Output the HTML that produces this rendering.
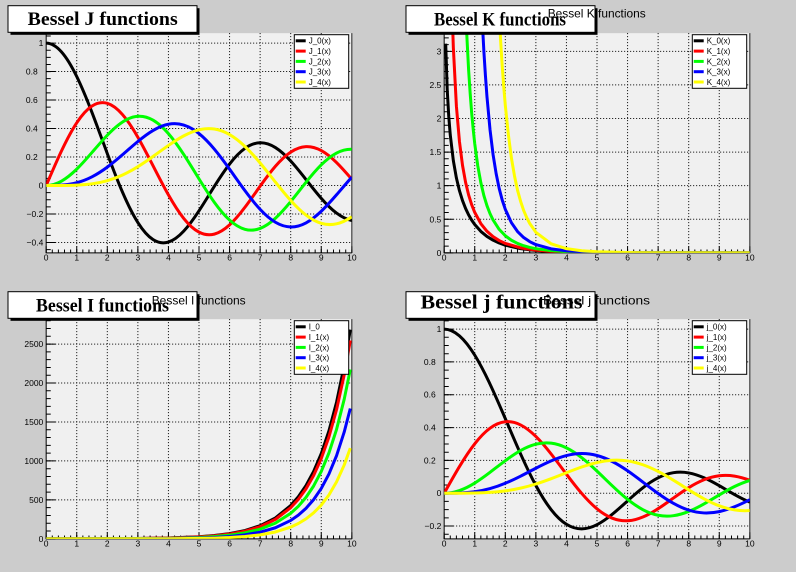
<!DOCTYPE html>
<html><head><meta charset="utf-8">
<style>
html,body{margin:0;padding:0;background:#cccccc;}
svg{display:block;}
text{font-family:"Liberation Sans",Arial,sans-serif;fill:#000;}
.t{font-family:"Liberation Serif","Times New Roman",serif;font-weight:bold;}
.yl{font-size:8.5px;text-anchor:end;}
.xl{font-size:8.5px;text-anchor:middle;}
.lg{font-size:8px;}
.st{font-size:12px;}
.grid{stroke:#000;stroke-width:1;stroke-dasharray:1 2;fill:none;}
.tk line{stroke:#000;}
.ax{stroke:#000;stroke-width:1;fill:none;}
.cv path{fill:none;stroke-width:3;stroke-linejoin:round;vector-effect:non-scaling-stroke;}
</style></head><body>
<svg width="796" height="572" viewBox="0 0 796 572" xmlns="http://www.w3.org/2000/svg">
<rect width="796" height="572" fill="#cccccc"/>
<defs>
<clipPath id="c1"><rect x="46.17" y="33.18" width="305.66" height="219.64"/></clipPath>
<clipPath id="c2"><rect x="444.17" y="33.18" width="305.66" height="219.64"/></clipPath>
<clipPath id="c3"><rect x="46.17" y="319.18" width="305.66" height="219.64"/></clipPath>
<clipPath id="c4"><rect x="444.17" y="319.18" width="305.66" height="219.64"/></clipPath>
</defs>
<rect x="46.17" y="33.18" width="305.66" height="219.64" fill="#f0f0f0"/>
<rect x="444.17" y="33.18" width="305.66" height="219.64" fill="#f0f0f0"/>
<rect x="46.17" y="319.18" width="305.66" height="219.64" fill="#f0f0f0"/>
<rect x="444.17" y="319.18" width="305.66" height="219.64" fill="#f0f0f0"/>

<!-- GRID -->
<path class="grid" d="M46.17 43.07H351.83M46.17 71.56H351.83M46.17 100.04H351.83M46.17 128.52H351.83M46.17 157.01H351.83M46.17 185.49H351.83M46.17 213.97H351.83M46.17 242.45H351.83
M76.74 33.18V252.82M107.30 33.18V252.82M137.87 33.18V252.82M168.43 33.18V252.82M199.00 33.18V252.82M229.57 33.18V252.82M260.13 33.18V252.82M290.70 33.18V252.82M321.26 33.18V252.82"/>
<path class="grid" d="M444.17 51.32H749.83M444.17 84.91H749.83M444.17 118.49H749.83M444.17 152.08H749.83M444.17 185.66H749.83M444.17 219.25H749.83
M474.74 33.18V252.82M505.30 33.18V252.82M535.87 33.18V252.82M566.43 33.18V252.82M597.00 33.18V252.82M627.57 33.18V252.82M658.13 33.18V252.82M688.70 33.18V252.82M719.26 33.18V252.82"/>
<path class="grid" d="M46.17 344.07H351.83M46.17 383.02H351.83M46.17 421.97H351.83M46.17 460.92H351.83M46.17 499.87H351.83
M76.74 319.18V538.82M107.30 319.18V538.82M137.87 319.18V538.82M168.43 319.18V538.82M199.00 319.18V538.82M229.57 319.18V538.82M260.13 319.18V538.82M290.70 319.18V538.82M321.26 319.18V538.82"/>
<path class="grid" d="M444.17 329.10H749.83M444.17 361.92H749.83M444.17 394.74H749.83M444.17 427.57H749.83M444.17 460.39H749.83M444.17 493.22H749.83M444.17 526.04H749.83
M474.74 319.18V538.82M505.30 319.18V538.82M535.87 319.18V538.82M566.43 319.18V538.82M597.00 319.18V538.82M627.57 319.18V538.82M658.13 319.18V538.82M688.70 319.18V538.82M719.26 319.18V538.82"/>

<!-- TICKS -->
<g class="tk">
<line x1="48.46" y1="35.46" x2="48.46" y2="250.1" stroke-width="4.58" stroke-dasharray="1 6.1207"/>
<line x1="50.755" y1="42.57" x2="50.755" y2="243" stroke-width="9.17" stroke-dasharray="1 27.4828"/>
<line x1="45.67" y1="251.175" x2="352.4" y2="251.175" stroke-width="3.29" stroke-dasharray="1 5.1132"/>
<line x1="45.67" y1="249.525" x2="352.4" y2="249.525" stroke-width="6.59" stroke-dasharray="1 29.566"/>

<line x1="446.46" y1="37.38" x2="446.46" y2="253.4" stroke-width="4.58" stroke-dasharray="1 5.717"/>
<line x1="448.755" y1="50.82" x2="448.755" y2="253.4" stroke-width="9.17" stroke-dasharray="1 32.585"/>
<line x1="443.67" y1="251.175" x2="750.4" y2="251.175" stroke-width="3.29" stroke-dasharray="1 5.1132"/>
<line x1="443.67" y1="249.525" x2="750.4" y2="249.525" stroke-width="6.59" stroke-dasharray="1 29.566"/>

<line x1="48.46" y1="320.2" x2="48.46" y2="539.4" stroke-width="4.58" stroke-dasharray="1 6.78984"/>
<line x1="50.755" y1="343.57" x2="50.755" y2="539.4" stroke-width="9.17" stroke-dasharray="1 37.9492"/>
<line x1="45.67" y1="537.175" x2="352.4" y2="537.175" stroke-width="3.29" stroke-dasharray="1 5.1132"/>
<line x1="45.67" y1="535.525" x2="352.4" y2="535.525" stroke-width="6.59" stroke-dasharray="1 29.566"/>

<line x1="446.46" y1="320.39" x2="446.46" y2="534.8" stroke-width="4.58" stroke-dasharray="1 7.2061"/>
<line x1="448.755" y1="328.6" x2="448.755" y2="527" stroke-width="9.17" stroke-dasharray="1 31.8244"/>
<line x1="443.67" y1="537.175" x2="750.4" y2="537.175" stroke-width="3.29" stroke-dasharray="1 5.1132"/>
<line x1="443.67" y1="535.525" x2="750.4" y2="535.525" stroke-width="6.59" stroke-dasharray="1 29.566"/>
</g>

<!-- AXES -->
<path class="ax" d="M46.17 33.18V252.82H351.83M444.17 33.18V252.82H749.83M46.17 319.18V538.82H351.83M444.17 319.18V538.82H749.83"/>
<path d="M351.83 33.18V252.82M749.83 33.18V252.82M351.83 319.18V538.82M749.83 319.18V538.82" stroke="#222" stroke-width="1" fill="none"/>

<!-- CURVES pad 1: J -->
<g clip-path="url(#c1)"><g class="cv" transform="matrix(30.566 0 0 -142.414 46.17 185.49)">
<path stroke="#000000" d="M0 1C0.1667 1 0.3333 0.978848 0.5 0.93847C0.6667 0.898092 0.8333 0.838542 1 0.7652C1.1667 0.691858 1.3333 0.60482 1.5 0.51183C1.6667 0.41884 1.8333 0.32001 2 0.22389C2.1667 0.12777 2.3333 0.034468 2.5 -0.04838C2.6667 -0.131228 2.8333 -0.20354 3 -0.26005C3.1667 -0.31656 3.3333 -0.357233 3.5 -0.38013C3.6667 -0.403027 3.8333 -0.408157 4 -0.39715C4.1667 -0.386143 4.3333 -0.35905 4.5 -0.32054C4.6667 -0.28203 4.8333 -0.232197 5 -0.1776C5.1667 -0.123003 5.3333 -0.063747 5.5 -0.00684C5.6667 0.050067 5.8333 0.104537 6 0.15065C6.1667 0.196763 6.3333 0.23445 6.5 0.26009C6.6667 0.28573 6.8333 0.2993 7 0.30008C7.1667 0.30086 7.3333 0.288882 7.5 0.26634C7.6667 0.243798 7.8333 0.210757 8 0.17165C8.1667 0.132543 8.3333 0.08745 8.5 0.04193C8.6667 -0.00359 8.8333 -0.049445 9 -0.09033C9.1667 -0.131215 9.3333 -0.167052 9.5 -0.19393C9.6667 -0.220808 9.8333 -0.238695 10 -0.24594"/>
<path stroke="#ff0000" d="M0 0C0.1667 0.083333 0.3333 0.166614 0.5 0.24227C0.6667 0.317926 0.8333 0.385858 1 0.44005C1.1667 0.494242 1.3333 0.534628 1.5 0.55794C1.6667 0.581252 1.8333 0.587465 2 0.57672C2.1667 0.565975 2.3333 0.538293 2.5 0.49709C2.6667 0.455887 2.8333 0.401238 3 0.33906C3.1667 0.276882 3.3333 0.207277 3.5 0.13738C3.6667 0.067483 3.8333 -0.0026 4 -0.06604C4.1667 -0.12948 4.3333 -0.186194 4.5 -0.23106C4.6667 -0.275926 4.8333 -0.308899 5 -0.32758C5.1667 -0.346261 5.3333 -0.350656 5.5 -0.34144C5.6667 -0.332224 5.8333 -0.309473 6 -0.27668C6.1667 -0.243887 6.3333 -0.201133 6.5 -0.15384C6.6667 -0.106547 6.8333 -0.054805 7 -0.00468C7.1667 0.045445 7.3333 0.093866 7.5 0.13525C7.6667 0.176634 7.8333 0.21092 8 0.23464C8.1667 0.25836 8.3333 0.271483 8.5 0.27312C8.6667 0.274757 8.8333 0.264908 9 0.24531C9.1667 0.225712 9.3333 0.196422 9.5 0.16127C9.6667 0.126118 9.8333 0.085184 10 0.04347"/>
<path stroke="#00ff00" d="M0 0C0.1667 0 0.3333 0.010624 0.5 0.0306C0.6667 0.050576 0.8333 0.079859 1 0.1149C1.1667 0.149941 1.3333 0.190675 1.5 0.23209C1.6667 0.273505 1.8333 0.315515 2 0.35283C2.1667 0.390145 2.3333 0.422687 2.5 0.44606C2.6667 0.469433 2.8333 0.48359 3 0.48609C3.1667 0.48859 3.3333 0.479413 3.5 0.45863C3.6667 0.437847 3.8333 0.405481 4 0.36413C4.1667 0.322779 4.3333 0.272497 4.5 0.21785C4.6667 0.163203 4.8333 0.104272 5 0.04657C5.1667 -0.011132 5.3333 -0.06764 5.5 -0.11743C5.6667 -0.16722 5.8333 -0.210249 6 -0.24287C6.1667 -0.275491 6.3333 -0.297556 6.5 -0.30743C6.6667 -0.317304 6.8333 -0.314993 7 -0.30142C7.1667 -0.287847 7.3333 -0.263046 7.5 -0.23027C7.6667 -0.197494 7.8333 -0.156804 8 -0.11299C8.1667 -0.069176 8.3333 -0.022356 8.5 0.02229C8.6667 0.066936 8.8333 0.10933 9 0.14485C9.1667 0.18037 9.3333 0.209007 9.5 0.22789C9.6667 0.246773 9.8333 0.255873 10 0.25463"/>
<path stroke="#0000ff" d="M0 0C0.1667 0 0.3333 0.000023 0.5 0.00256C0.6667 0.005097 0.8333 0.010192 1 0.01956C1.1667 0.028928 1.3333 0.042601 1.5 0.06096C1.6667 0.079319 1.8333 0.102371 2 0.12894C2.1667 0.155509 2.3333 0.185587 2.5 0.21661C2.6667 0.247633 2.8333 0.279555 3 0.30906C3.1667 0.338565 3.3333 0.365584 3.5 0.38677C3.6667 0.407956 3.8333 0.423253 4 0.43017C4.1667 0.437087 4.3333 0.435581 4.5 0.4247C4.6667 0.413819 4.8333 0.393563 5 0.36484C5.1667 0.336117 5.3333 0.298888 5.5 0.25604C5.6667 0.213192 5.8333 0.164813 6 0.11477C6.1667 0.064727 6.3333 0.013169 6.5 -0.03535C6.6667 -0.083869 6.8333 -0.129292 7 -0.16756C7.1667 -0.205828 7.3333 -0.236886 7.5 -0.25806C7.6667 -0.279234 7.8333 -0.290494 8 -0.29113C8.1667 -0.291766 8.3333 -0.281794 8.5 -0.26263C8.6667 -0.243466 8.8333 -0.215123 9 -0.18093C9.1667 -0.146737 9.3333 -0.106739 9.5 -0.06532C9.6667 -0.023901 9.8333 0.018861 10 0.05838"/>
<path stroke="#ffff00" d="M0 0C0.1667 0 0.3333 -0.000053 0.5 0.00016C0.6667 0.000373 0.8333 0.000873 1 0.00248C1.1667 0.004087 1.3333 0.006855 1.5 0.01178C1.6667 0.016705 1.8333 0.023843 2 0.034C2.1667 0.044157 2.3333 0.057353 2.5 0.07378C2.6667 0.090207 2.8333 0.10986 3 0.13203C3.1667 0.1542 3.3333 0.178872 3.5 0.2044C3.6667 0.229928 3.8333 0.25629 4 0.28113C4.1667 0.30597 4.3333 0.329254 4.5 0.34842C4.6667 0.367586 4.8333 0.382599 5 0.39124C5.1667 0.399881 5.3333 0.402168 5.5 0.39675C5.6667 0.391332 5.8333 0.37825 6 0.35764C6.1667 0.33703 6.3333 0.308876 6.5 0.2748C6.6667 0.240724 6.8333 0.200755 7 0.1578C7.1667 0.114845 7.3333 0.068947 7.5 0.02382C7.6667 -0.021307 7.8333 -0.065618 8 -0.10536C8.1667 -0.145102 8.3333 -0.180197 8.5 -0.20768C8.6667 -0.235163 8.8333 -0.254979 9 -0.26547C9.1667 -0.275961 9.3333 -0.27714 9.5 -0.26914C9.6667 -0.26114 9.8333 -0.24397 10 -0.2196"/>
</g></g>

<!-- CURVES pad 2: K -->
<g clip-path="url(#c2)"><g class="cv" transform="matrix(30.566 0 0 -67.170 444.17 252.82)">
<path stroke="#000000" d="M0.05 3.114L0.1 2.427 0.15 2.03 0.2 1.7527 0.3 1.3725 0.4 1.1145 0.5 0.9244 0.6 0.7775 0.7 0.6605 0.8 0.5653 0.9 0.4867 1 0.421 1.2 0.3185 1.4 0.2437 1.6 0.188 1.8 0.1459 2 0.1139 2.5 0.06235 3 0.03474 3.5 0.0196 4 0.01116 5 0.00369 6 0.00124 7 0.00042 8 0.00015 10 0.00002"/>
<path stroke="#ff0000" d="M0.1 9.854L0.15 6.478 0.2 4.776 0.25 3.747 0.3 3.056 0.4 2.1844 0.5 1.6564 0.6 1.3028 0.7 1.0503 0.8 0.8618 0.9 0.7165 1 0.6019 1.2 0.4346 1.4 0.3208 1.6 0.2406 1.8 0.1826 2 0.1399 2.5 0.07389 3 0.04016 3.5 0.02224 4 0.01248 5 0.004045 6 0.001344 7 0.00045 8 0.00016 10 0.00002"/>
<path stroke="#00ff00" d="M0.5 7.55L0.6 5.1202 0.65 4.33 0.7 3.6614 0.75 3.156 0.8 2.7198 0.85 2.378 0.9 2.0789 0.95 1.838 1 1.6248 1.1 1.2924 1.2 1.0428 1.3 0.8509 1.4 0.702 1.5 0.5837 1.6 0.4888 1.8 0.3488 2 0.2538 2.2 0.1874 2.4 0.14 2.6 0.1056 2.8 0.0803 3 0.06151 3.5 0.03231 4 0.0174 4.5 0.009546 5 0.005309 6 0.001692 7 0.0006 8 0.0002 10 0.00002"/>
<path stroke="#0000ff" d="M1 7.1011L1.1 5.2095 1.15 4.5136 1.2 3.9106 1.25 3.4196 1.3 2.9903 1.35 2.6376 1.4 2.3265 1.5 1.8338 1.6 1.4626 1.7 1.18 1.8 0.9577 1.9 0.7844 2 0.6475 2.2 0.4486 2.4 0.317 2.6 0.2278 2.8 0.1659 3 0.1222 3.5 0.05917 4 0.02988 4.5 0.01556 5 0.008292 6 0.002472 7 0.0008 8 0.00027 10 0.00003"/>
<path stroke="#ffff00" d="M1.5 7.9189L1.6 5.9736 1.7 4.5769 1.75 4.0258 1.8 3.5411 1.85 3.134 1.9 2.7738 1.95 2.4683 2 2.1963 2.1 1.7602 2.2 1.4107 2.3 1.147 2.4 0.9326 2.5 0.7672 2.6 0.6312 2.7 0.5245 2.8 0.4358 3 0.3059 3.5 0.1337 4 0.06222 4.5 0.0303 5 0.01526 6 0.004164 7 0.0012 8 0.0004 10 0.00004"/>
</g></g>

<!-- CURVES pad 3: I -->
<g clip-path="url(#c3)"><g class="cv" transform="matrix(30.566 0 0 -0.0778984 46.17 538.82)">
<path stroke="#000000" d="M0 1L1 1.266 2 2.28 3 4.881 4 11.302 5 27.24 5.5 42.695 6 67.234 6.5 106.29 7 168.59 7.5 268.16 8 427.56 8.25 540.32 8.5 683.17 8.75 864.15 9 1093.59 9.25 1384.5 9.5 1753.47 9.75 2221.61 9.95 2685.35"/>
<path stroke="#ff0000" d="M0 0L1 0.565 2 1.591 3 3.953 4 9.76 5 24.336 5.5 38.588 6 61.342 6.5 97.74 7 156.04 7.5 249.59 8 399.87 8.25 506.44 8.5 641.64 8.75 813.17 9 1030.91 9.25 1307.39 9.5 1658.46 9.75 2104.41 9.95 2546.63"/>
<path stroke="#00ff00" d="M0 0L2 0.689 3 2.245 4 6.422 5 17.506 5.5 28.663 6 46.787 6.5 76.22 7 124.01 7.5 201.6 8 327.6 8.25 417.55 8.5 532.2 8.75 678.28 9 864.5 9.25 1101.82 9.5 1404.32 9.75 1789.94 9.95 2173.46"/>
<path stroke="#0000ff" d="M0 0L3 0.96 4 3.337 5 10.331 5.5 17.742 6 30.151 6.5 50.84 7 85.18 7.5 142.07 8 236.08 8.25 303.99 8.5 391.19 8.75 503.1 9 646.69 9.25 830.93 9.5 1067.17 9.75 1370.08 9.95 1672.88"/>
<path stroke="#ffff00" d="M0 0L3 0.326 4 1.416 5 5.108 5.5 9.308 6 16.637 6.5 29.29 7 51 7.5 87.94 8 150.54 8.25 196.47 8.5 256.07 8.75 333.3 9 433.37 9.25 562.83 9.5 730.32 9.75 946.81 9.95 1164.69"/>
</g></g>

<!-- CURVES pad 4: spherical j -->
<g clip-path="url(#c4)"><g class="cv" transform="matrix(30.566 0 0 -164.122 444.17 493.22)">
<path stroke="#000000" d="M0 1C0.1667 1 0.3333 0.98594 0.5 0.958851C0.6667 0.931762 0.8333 0.891666 1 0.841471C1.1667 0.791276 1.3333 0.731026 1.5 0.664997C1.6667 0.598968 1.8333 0.527215 2 0.454649C2.1667 0.382083 2.3333 0.308758 2.5 0.239389C2.6667 0.17002 2.8333 0.104653 3 0.04704C3.1667 -0.010573 3.3333 -0.060403 3.5 -0.100224C3.6667 -0.140045 3.8333 -0.169849 4 -0.189201C4.1667 -0.208553 4.3333 -0.217467 4.5 -0.217229C4.6667 -0.216991 4.8333 -0.207633 5 -0.191785C5.1667 -0.175937 5.3333 -0.153642 5.5 -0.12828C5.6667 -0.102918 5.8333 -0.074534 6 -0.046569C6.1667 -0.018604 6.3333 0.008903 6.5 0.033095C6.6667 0.057287 6.8333 0.07814 7 0.093855C7.1667 0.10957 7.3333 0.120143 7.5 0.125067C7.6667 0.129991 7.8333 0.129278 8 0.12367C8.1667 0.118062 8.3333 0.107586 8.5 0.09394C8.6667 0.080294 8.8333 0.063512 9 0.045791C9.1667 0.02807 9.3333 0.009445 9.5 -0.007911C9.6667 -0.025267 9.8333 -0.041324 10 -0.054402"/>
<path stroke="#ff0000" d="M0 0C0.1667 0.055556 0.3333 0.111085 0.5 0.162536C0.6667 0.213987 0.8333 0.261313 1 0.301169C1.1667 0.341025 1.3333 0.373379 1.5 0.396173C1.6667 0.418967 1.8333 0.432189 2 0.435398C2.1667 0.438607 2.3333 0.43181 2.5 0.416213C2.6667 0.400616 2.8333 0.376246 3 0.345677C3.1667 0.315108 3.3333 0.278383 3.5 0.238924C3.6667 0.199465 3.8333 0.157321 4 0.116111C4.1667 0.074901 4.3333 0.034669 4.5 -0.00143C4.6667 -0.037529 4.8333 -0.069464 5 -0.095089C5.1667 -0.120714 5.3333 -0.140016 5.5 -0.152173C5.6667 -0.16433 5.8333 -0.16935 6 -0.16779C6.1667 -0.16623 6.3333 -0.158113 6.5 -0.145153C6.6667 -0.132193 6.8333 -0.114425 7 -0.094292C7.1667 -0.074159 7.3333 -0.0517 7.5 -0.029542C7.6667 -0.007384 7.8333 0.014436 8 0.033646C8.1667 0.052856 8.3333 0.069431 8.5 0.081877C8.6667 0.094323 8.8333 0.102631 9 0.106325C9.1667 0.110019 9.3333 0.109105 9.5 0.104133C9.6667 0.099161 9.8333 0.09015 10 0.078467"/>
<path stroke="#00ff00" d="M0 0C0.1667 0 0.3333 0.005653 0.5 0.016371C0.6667 0.027089 0.8333 0.042858 1 0.062035C1.1667 0.081212 1.3333 0.10377 1.5 0.127349C1.6667 0.150928 1.8333 0.175494 2 0.198448C2.1667 0.221402 2.3333 0.242711 2.5 0.260067C2.6667 0.277423 2.8333 0.290797 3 0.298637C3.1667 0.306477 3.3333 0.308769 3.5 0.305016C3.6667 0.301263 3.8333 0.291468 4 0.276284C4.1667 0.2611 4.3333 0.240545 4.5 0.216276C4.6667 0.192007 4.8333 0.164053 5 0.134732C5.1667 0.105411 5.3333 0.074754 5.5 0.045276C5.6667 0.015798 5.8333 -0.012471 6 -0.037326C6.1667 -0.062181 6.3333 -0.083596 6.5 -0.100089C6.6667 -0.116582 6.8333 -0.128141 7 -0.134266C7.1667 -0.140391 7.3333 -0.141086 7.5 -0.136884C7.6667 -0.132682 7.8333 -0.123602 8 -0.111053C8.1667 -0.098504 8.3333 -0.082514 8.5 -0.065042C8.6667 -0.04757 8.8333 -0.028645 9 -0.010349C9.1667 0.007947 9.3333 0.025587 9.5 0.040795C9.6667 0.056003 9.8333 0.068761 10 0.077942"/>
<path stroke="#0000ff" d="M0 0C0.1667 0 0.3333 0.000011 0.5 0.001174C0.6667 0.002337 0.8333 0.004672 1 0.009007C1.1667 0.013342 1.3333 0.019696 1.5 0.02833C1.6667 0.036964 1.8333 0.047888 2 0.060722C2.1667 0.073556 2.3333 0.088289 2.5 0.103921C2.6667 0.119553 2.8333 0.136067 3 0.152051C3.1667 0.168035 3.3333 0.183465 3.5 0.196813C3.6667 0.210161 3.8333 0.221404 4 0.229244C4.1667 0.237084 4.3333 0.241504 4.5 0.241737C4.6667 0.24197 4.8333 0.238009 5 0.229821C5.1667 0.221633 5.3333 0.209221 5.5 0.193333C5.6667 0.177445 5.8333 0.158093 6 0.136685C6.1667 0.115277 6.3333 0.091835 6.5 0.068162C6.6667 0.044489 6.8333 0.020612 7 -0.001612C7.1667 -0.023836 7.3333 -0.044386 7.5 -0.061714C7.6667 -0.079042 7.8333 -0.093133 8 -0.103054C8.1667 -0.112975 8.3333 -0.118719 8.5 -0.120137C8.6667 -0.121555 8.8333 -0.118651 9 -0.112074C9.1667 -0.105497 9.3333 -0.095262 9.5 -0.082662C9.6667 -0.070062 9.8333 -0.055119 10 -0.039496"/>
<path stroke="#ffff00" d="M0 0C0.1667 0 0.3333 -0.00002 0.5 0.000066C0.6667 0.000152 0.8333 0.00035 1 0.00101C1.1667 0.00167 1.3333 0.002796 1.5 0.004833C1.6667 0.00687 1.8333 0.009812 2 0.01407C2.1667 0.018328 2.3333 0.023896 2.5 0.030912C2.6667 0.037928 2.8333 0.046404 3 0.056149C3.1667 0.065894 3.3333 0.076905 3.5 0.08861C3.6667 0.100315 3.8333 0.112705 4 0.124893C4.1667 0.137081 4.3333 0.149054 4.5 0.159759C4.6667 0.170464 4.8333 0.179883 5 0.187017C5.1667 0.194151 5.3333 0.198984 5.5 0.200784C5.6667 0.202584 5.8333 0.201343 6 0.196792C6.1667 0.192241 6.3333 0.184377 6.5 0.173494C6.6667 0.162611 6.8333 0.148715 7 0.132654C7.1667 0.116593 7.3333 0.098379 7.5 0.079284C7.6667 0.060189 7.8333 0.040232 8 0.020881C8.1667 0.00153 8.3333 -0.017195 8.5 -0.033895C8.6667 -0.050595 8.8333 -0.065254 9 -0.07682C9.1667 -0.088386 9.3333 -0.096848 9.5 -0.101704C9.6667 -0.10656 9.8333 -0.107806 10 -0.105589"/>
</g></g>

<!-- Pad 1 y labels -->
<text class="yl" x="43.3" y="46.1">1</text>
<text class="yl" x="37.7" y="74.6">0.8</text>
<text class="yl" x="37.7" y="103.0">0.6</text>
<text class="yl" x="37.7" y="131.5">0.4</text>
<text class="yl" x="37.7" y="160.0">0.2</text>
<text class="yl" x="43.3" y="188.5">0</text>
<text class="yl" x="43.3" y="217.0">−0.2</text>
<text class="yl" x="43.3" y="245.5">−0.4</text>
<!-- Pad 2 y labels -->
<text class="yl" x="441.3" y="54.3">3</text>
<text class="yl" x="441.3" y="87.9">2.5</text>
<text class="yl" x="441.3" y="121.5">2</text>
<text class="yl" x="441.3" y="155.1">1.5</text>
<text class="yl" x="441.3" y="188.7">1</text>
<text class="yl" x="441.3" y="222.3">0.5</text>
<text class="yl" x="441.3" y="255.8">0</text>
<!-- Pad 3 y labels -->
<text class="yl" x="43.3" y="347.1">2500</text>
<text class="yl" x="43.3" y="386.0">2000</text>
<text class="yl" x="43.3" y="425.0">1500</text>
<text class="yl" x="43.3" y="463.9">1000</text>
<text class="yl" x="43.3" y="502.9">500</text>
<text class="yl" x="43.3" y="541.8">0</text>
<!-- Pad 4 y labels -->
<text class="yl" x="441.3" y="332.1">1</text>
<text class="yl" x="435.7" y="364.9">0.8</text>
<text class="yl" x="435.7" y="397.7">0.6</text>
<text class="yl" x="435.7" y="430.6">0.4</text>
<text class="yl" x="435.7" y="463.4">0.2</text>
<text class="yl" x="441.3" y="496.2">0</text>
<text class="yl" x="441.3" y="529.0">−0.2</text>

<!-- X labels pad 1 -->
<text class="xl" x="46.17" y="260.3">0</text>
<text class="xl" x="76.74" y="260.3">1</text>
<text class="xl" x="107.30" y="260.3">2</text>
<text class="xl" x="137.87" y="260.3">3</text>
<text class="xl" x="168.43" y="260.3">4</text>
<text class="xl" x="199.00" y="260.3">5</text>
<text class="xl" x="229.57" y="260.3">6</text>
<text class="xl" x="260.13" y="260.3">7</text>
<text class="xl" x="290.70" y="260.3">8</text>
<text class="xl" x="321.26" y="260.3">9</text>
<text class="xl" x="351.83" y="260.3">10</text>
<!-- X labels pad 2 -->
<text class="xl" x="444.17" y="260.3">0</text>
<text class="xl" x="474.74" y="260.3">1</text>
<text class="xl" x="505.30" y="260.3">2</text>
<text class="xl" x="535.87" y="260.3">3</text>
<text class="xl" x="566.43" y="260.3">4</text>
<text class="xl" x="597.00" y="260.3">5</text>
<text class="xl" x="627.57" y="260.3">6</text>
<text class="xl" x="658.13" y="260.3">7</text>
<text class="xl" x="688.70" y="260.3">8</text>
<text class="xl" x="719.26" y="260.3">9</text>
<text class="xl" x="749.83" y="260.3">10</text>
<!-- X labels pad 3 -->
<text class="xl" x="46.17" y="546.5">0</text>
<text class="xl" x="76.74" y="546.5">1</text>
<text class="xl" x="107.30" y="546.5">2</text>
<text class="xl" x="137.87" y="546.5">3</text>
<text class="xl" x="168.43" y="546.5">4</text>
<text class="xl" x="199.00" y="546.5">5</text>
<text class="xl" x="229.57" y="546.5">6</text>
<text class="xl" x="260.13" y="546.5">7</text>
<text class="xl" x="290.70" y="546.5">8</text>
<text class="xl" x="321.26" y="546.5">9</text>
<text class="xl" x="351.83" y="546.5">10</text>
<!-- X labels pad 4 -->
<text class="xl" x="444.17" y="546.5">0</text>
<text class="xl" x="474.74" y="546.5">1</text>
<text class="xl" x="505.30" y="546.5">2</text>
<text class="xl" x="535.87" y="546.5">3</text>
<text class="xl" x="566.43" y="546.5">4</text>
<text class="xl" x="597.00" y="546.5">5</text>
<text class="xl" x="627.57" y="546.5">6</text>
<text class="xl" x="658.13" y="546.5">7</text>
<text class="xl" x="688.70" y="546.5">8</text>
<text class="xl" x="719.26" y="546.5">9</text>
<text class="xl" x="749.83" y="546.5">10</text>

<!-- Legends -->
<g>
<rect x="294.3" y="34.7" width="54.4" height="53.6" fill="#fff" stroke="#000" stroke-width="1"/>
<line x1="295.7" y1="40.8" x2="305.7" y2="40.8" stroke="#000" stroke-width="3"/>
<line x1="295.7" y1="51.1" x2="305.7" y2="51.1" stroke="#ff0000" stroke-width="3"/>
<line x1="295.7" y1="61.4" x2="305.7" y2="61.4" stroke="#00ff00" stroke-width="3"/>
<line x1="295.7" y1="71.7" x2="305.7" y2="71.7" stroke="#0000ff" stroke-width="3"/>
<line x1="295.7" y1="82.0" x2="305.7" y2="82.0" stroke="#ffff00" stroke-width="3"/>
<text class="lg" x="308.7" y="43.7">J_0(x)</text>
<text class="lg" x="308.7" y="54.0">J_1(x)</text>
<text class="lg" x="308.7" y="64.3">J_2(x)</text>
<text class="lg" x="308.7" y="74.6">J_3(x)</text>
<text class="lg" x="308.7" y="84.9">J_4(x)</text>
</g>
<g>
<rect x="692.3" y="34.7" width="54.4" height="53.6" fill="#fff" stroke="#000" stroke-width="1"/>
<line x1="693.7" y1="40.8" x2="703.7" y2="40.8" stroke="#000" stroke-width="3"/>
<line x1="693.7" y1="51.1" x2="703.7" y2="51.1" stroke="#ff0000" stroke-width="3"/>
<line x1="693.7" y1="61.4" x2="703.7" y2="61.4" stroke="#00ff00" stroke-width="3"/>
<line x1="693.7" y1="71.7" x2="703.7" y2="71.7" stroke="#0000ff" stroke-width="3"/>
<line x1="693.7" y1="82.0" x2="703.7" y2="82.0" stroke="#ffff00" stroke-width="3"/>
<text class="lg" x="706.7" y="43.7">K_0(x)</text>
<text class="lg" x="706.7" y="54.0">K_1(x)</text>
<text class="lg" x="706.7" y="64.3">K_2(x)</text>
<text class="lg" x="706.7" y="74.6">K_3(x)</text>
<text class="lg" x="706.7" y="84.9">K_4(x)</text>
</g>
<g>
<rect x="294.3" y="320.7" width="54.4" height="53.6" fill="#fff" stroke="#000" stroke-width="1"/>
<line x1="295.7" y1="326.8" x2="305.7" y2="326.8" stroke="#000" stroke-width="3"/>
<line x1="295.7" y1="337.1" x2="305.7" y2="337.1" stroke="#ff0000" stroke-width="3"/>
<line x1="295.7" y1="347.4" x2="305.7" y2="347.4" stroke="#00ff00" stroke-width="3"/>
<line x1="295.7" y1="357.7" x2="305.7" y2="357.7" stroke="#0000ff" stroke-width="3"/>
<line x1="295.7" y1="368.0" x2="305.7" y2="368.0" stroke="#ffff00" stroke-width="3"/>
<text class="lg" x="308.7" y="329.7">I_0</text>
<text class="lg" x="308.7" y="340.0">I_1(x)</text>
<text class="lg" x="308.7" y="350.3">I_2(x)</text>
<text class="lg" x="308.7" y="360.6">I_3(x)</text>
<text class="lg" x="308.7" y="370.9">I_4(x)</text>
</g>
<g>
<rect x="692.3" y="320.7" width="54.4" height="53.6" fill="#fff" stroke="#000" stroke-width="1"/>
<line x1="693.7" y1="326.8" x2="703.7" y2="326.8" stroke="#000" stroke-width="3"/>
<line x1="693.7" y1="337.1" x2="703.7" y2="337.1" stroke="#ff0000" stroke-width="3"/>
<line x1="693.7" y1="347.4" x2="703.7" y2="347.4" stroke="#00ff00" stroke-width="3"/>
<line x1="693.7" y1="357.7" x2="703.7" y2="357.7" stroke="#0000ff" stroke-width="3"/>
<line x1="693.7" y1="368.0" x2="703.7" y2="368.0" stroke="#ffff00" stroke-width="3"/>
<text class="lg" x="706.7" y="329.7">j_0(x)</text>
<text class="lg" x="706.7" y="340.0">j_1(x)</text>
<text class="lg" x="706.7" y="350.3">j_2(x)</text>
<text class="lg" x="706.7" y="360.6">j_3(x)</text>
<text class="lg" x="706.7" y="370.9">j_4(x)</text>
</g>

<!-- Title boxes -->
<rect x="10.5" y="8.2" width="189" height="26.6" fill="#000"/>
<rect x="8" y="5.7" width="189" height="26.6" fill="#fff" stroke="#000" stroke-width="1"/>
<text class="t" x="27.7" y="25" font-size="18.5" textLength="150" lengthAdjust="spacingAndGlyphs">Bessel J functions</text>

<rect x="408.5" y="8.2" width="189" height="26.6" fill="#000"/>
<rect x="406" y="5.7" width="189" height="26.6" fill="#fff" stroke="#000" stroke-width="1"/>
<text class="t" x="434" y="25.5" font-size="18.5" textLength="132" lengthAdjust="spacingAndGlyphs">Bessel K functions</text>
<text class="st" x="547.7" y="17.3" textLength="98" lengthAdjust="spacingAndGlyphs">Bessel K functions</text>

<rect x="10.5" y="294.2" width="189" height="26.6" fill="#000"/>
<rect x="8" y="291.7" width="189" height="26.6" fill="#fff" stroke="#000" stroke-width="1"/>
<text class="t" x="36" y="311.5" font-size="18.5" textLength="133" lengthAdjust="spacingAndGlyphs">Bessel I functions</text>
<text class="st" x="151.7" y="304.5" textLength="94" lengthAdjust="spacingAndGlyphs">Bessel I functions</text>

<rect x="408.5" y="294.2" width="189" height="26.6" fill="#000"/>
<rect x="406" y="291.7" width="189" height="26.6" fill="#fff" stroke="#000" stroke-width="1"/>
<text class="t" x="420.5" y="308.7" font-size="19.5" textLength="162" lengthAdjust="spacingAndGlyphs">Bessel j functions</text>
<text class="st" x="543" y="304.7" font-size="13.5" textLength="107" lengthAdjust="spacingAndGlyphs">Bessel j functions</text>
</svg>
</body></html>
